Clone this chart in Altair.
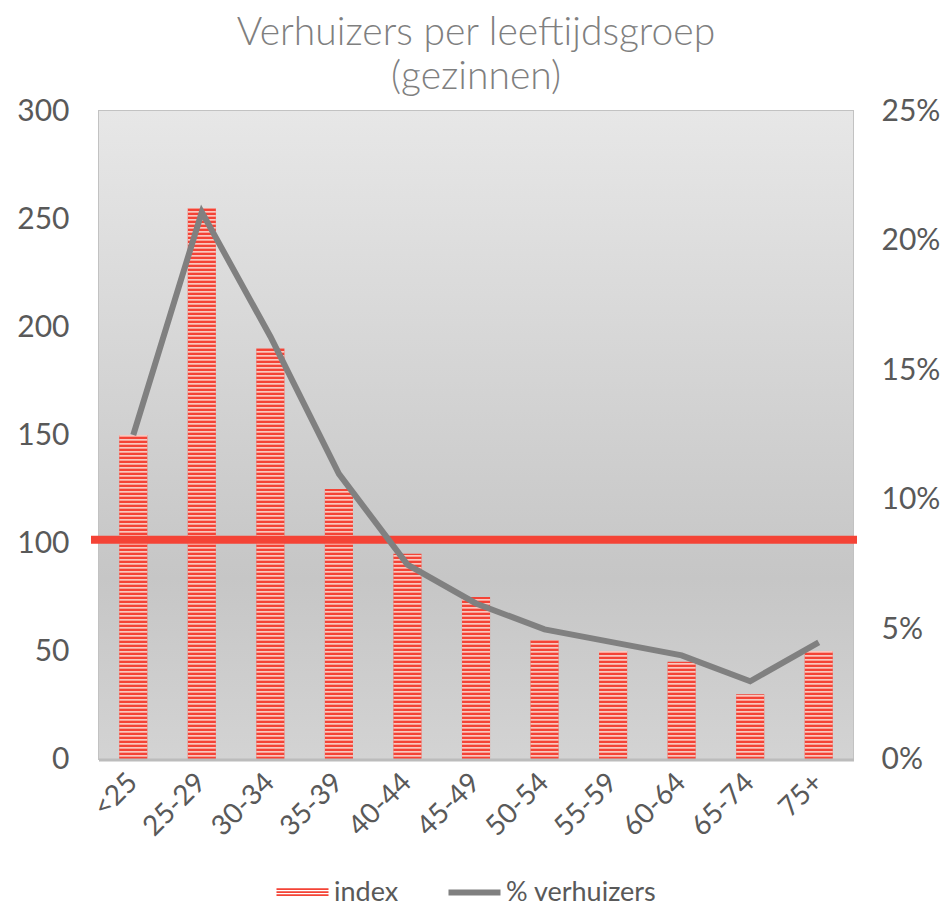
import altair as alt
import pandas as pd

# ---- data ----
categories = ['<25', '25-29', '30-34', '35-39', '40-44', '45-49',
              '50-54', '55-59', '60-64', '65-74', '75+']
index_values = [150, 255, 190, 125, 95, 75, 55, 50, 45, 30, 50]
pct_movers = [12.5, 21.1, 16.3, 11.0, 7.5, 6.0, 5.0, 4.5, 4.0, 3.0, 4.5]
reference_index = [101.5]
left_ticks = [0, 50, 100, 150, 200, 250, 300]
right_ticks = [0, 5, 10, 15, 20, 25]
title_lines = ['Verhuizers per leeftijdsgroep', '(gezinnen)']
legend_bar = ['index']
legend_line = ['% verhuizers']

# ---- style ----
W, H = 754, 648
FONT = 'Lato'
RED = '#f44336'
PALE = '#f9c8bf'
LINE = '#808080'
TXT = '#595959'

df = pd.DataFrame({'cat': categories, 'idx': index_values, 'pct': pct_movers,
                   'lb_bar': legend_bar * len(categories),
                   'lb_line': legend_line * len(categories)})

# pale stripes over the red bars (pattern fill)
u = left_ticks[-1] / H
period, red_h = 4 * u, 2.3 * u
rows = []
for c, v in zip(categories, index_values):
    k = 0
    while k * period + red_h < v:
        y0 = k * period + red_h
        rows.append({'cat': c, 'y0': y0, 'y1': min(y0 + period - red_h, v)})
        k += 1
stripes = pd.DataFrame(rows)

xscale = alt.Scale(domain=categories, paddingInner=0.59, paddingOuter=0.295)
yl = alt.Scale(domain=[0, 300], nice=False, zero=True)
yr = alt.Scale(domain=[0, 25], nice=False, zero=True)

x_axis = alt.Axis(labelAngle=315, labelFontSize=28, labelColor=TXT,
                  labelFont=FONT, ticks=False, domain=False,
                  labelPadding=19, labelAlign='right', labelBaseline='middle')
yl_axis = alt.Axis(values=left_ticks, labelFontSize=30, labelColor=TXT,
                   labelFont=FONT, ticks=False, domain=False, grid=False,
                   labelPadding=30)

one = pd.DataFrame({'z': [0]})
bg = alt.Chart(one).mark_rect(
    fill=alt.LinearGradient(gradient='linear', x1=0, x2=0, y1=0, y2=1, stops=[
        alt.GradientStop(color='#e7e7e7', offset=0),
        alt.GradientStop(color='#c6c6c6', offset=0.72),
        alt.GradientStop(color='#d3d3d3', offset=1)])
).encode(x=alt.value(0), x2=alt.value(W), y=alt.value(0), y2=alt.value(H))

grid = alt.Chart(pd.DataFrame({'t': left_ticks[1:-1]})).mark_rule(
    color='white', strokeWidth=1.5
).encode(y=alt.Y('t:Q', scale=yl, axis=yl_axis, title=None),
         x=alt.value(0), x2=alt.value(W))

bars = alt.Chart(df).mark_bar().encode(
    x=alt.X('cat:N', sort=categories, scale=xscale, title=None, axis=x_axis),
    y=alt.Y('idx:Q', scale=yl, title=None, axis=yl_axis),
    fill=alt.Fill('lb_bar:N', scale=alt.Scale(domain=legend_bar, range=[RED]),
                  legend=alt.Legend(
                      orient='none', legendX=190, legendY=768, title=None,
                      symbolType='M-3.06,-0.5H3.06V-0.3H-3.06Z M-3.06,-0.14H3.06V0.06H-3.06Z M-3.06,0.22H3.06V0.42H-3.06Z',
                      symbolSize=289, symbolStrokeWidth=0, labelOffset=18,
                      labelFontSize=27, labelFont=FONT, labelColor=TXT, padding=0)),
)

stripe_layer = alt.Chart(stripes).mark_bar(color=PALE).encode(
    x=alt.X('cat:N', sort=categories, scale=xscale, title=None, axis=x_axis),
    y=alt.Y('y0:Q', scale=yl, title=None, axis=yl_axis),
    y2='y1:Q',
)

ref = alt.Chart(pd.DataFrame({'r': reference_index})).mark_rule(
    color=RED, strokeWidth=8
).encode(y=alt.Y('r:Q', scale=yl, title=None, axis=yl_axis),
         x=alt.value(-8), x2=alt.value(W + 4))

floor = alt.Chart(one).mark_rule(color='#bcbcbc', strokeWidth=3).encode(
    x=alt.value(0), x2=alt.value(W + 1), y=alt.value(H + 1))

line = alt.Chart(df).mark_line(strokeWidth=6).encode(
    x=alt.X('cat:N', sort=categories, scale=xscale, title=None, axis=x_axis),
    y=alt.Y('pct:Q', scale=yr, title=None,
            axis=alt.Axis(orient='right', values=right_ticks, labelExpr="datum.value + '%'",
                          labelFontSize=30, labelColor=TXT, labelFont=FONT,
                          ticks=False, domain=False, grid=False, labelPadding=28)),
    stroke=alt.Stroke('lb_line:N', scale=alt.Scale(domain=legend_line, range=[LINE]),
                      legend=alt.Legend(
                          orient='none', legendX=362, legendY=768, title=None,
                          symbolType='M-3.06,0H3.06', symbolSize=289,
                          symbolStrokeWidth=6, labelOffset=18,
                          labelFontSize=27, labelFont=FONT, labelColor=TXT, padding=0)),
)

left = alt.layer(grid, bg, bars, stripe_layer, ref, floor)
chart = alt.layer(left, line).resolve_scale(
    y='independent', fill='independent', stroke='independent'
).resolve_legend(fill='independent', stroke='independent').properties(
    width=W, height=H,
    padding={'left': 8, 'top': 6, 'right': 0, 'bottom': 0},
    title=alt.TitleParams(text=title_lines, fontSize=39, font=FONT, color='#7f7f7f',
                          fontWeight=300, lineHeight=44, offset=-1, anchor='middle'),
).configure_view(stroke='#c2c2c2', strokeWidth=2)

chart.save('out.html', embed_options={'renderer': 'svg', 'actions': False})
